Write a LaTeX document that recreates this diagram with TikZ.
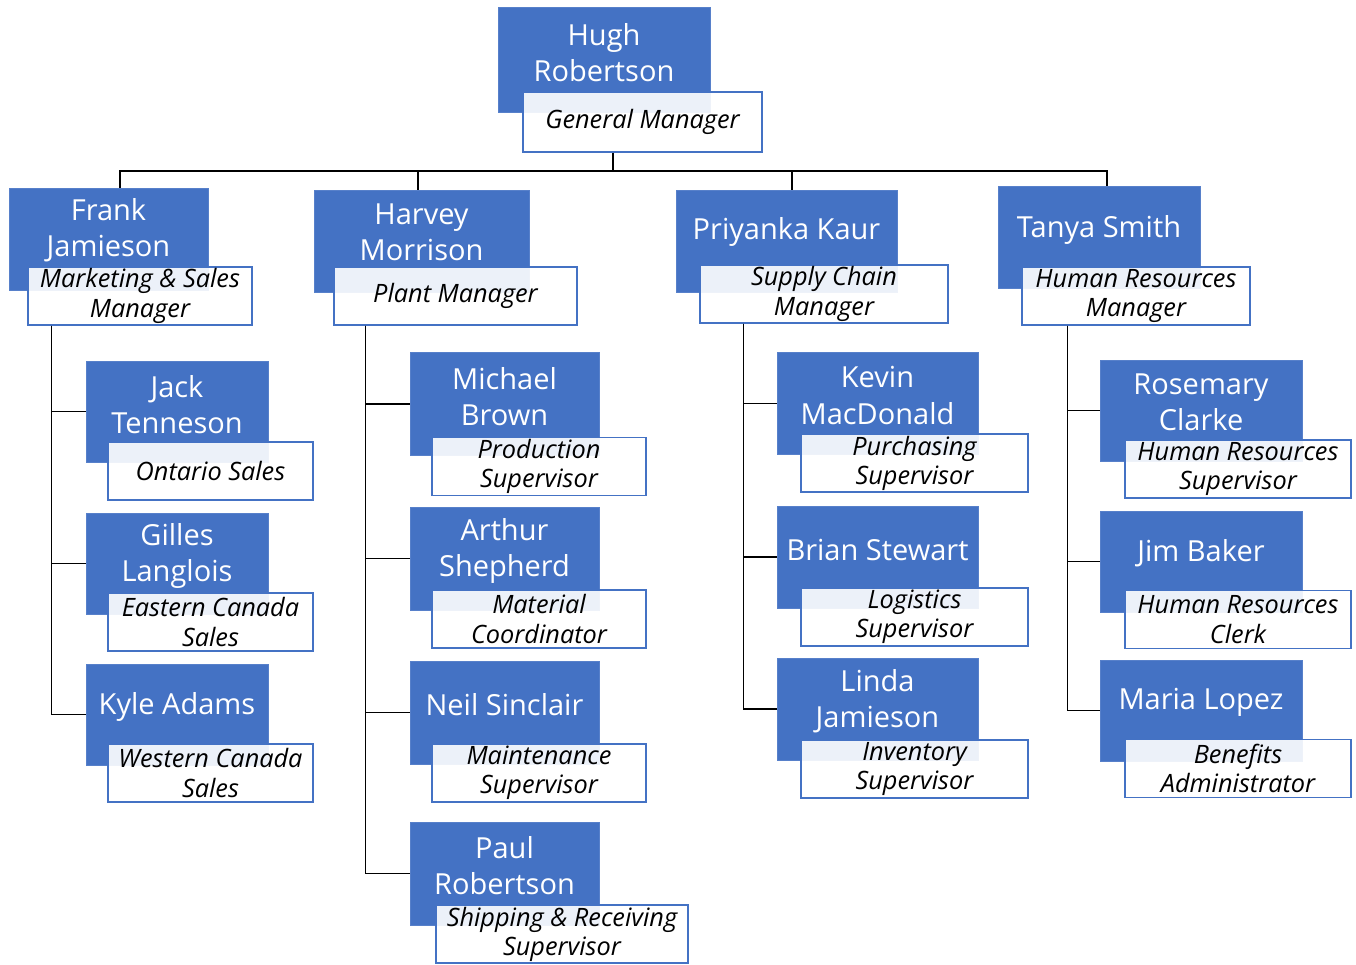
\documentclass[tikz,border=0pt]{standalone}
\usepackage{fontspec}
\setmainfont{Open Sans}
\usepackage{xcolor}
\usetikzlibrary{positioning,calc}
\definecolor{officeblue}{HTML}{4472C4}

\tikzset{
    bluebox/.style={rectangle, fill=officeblue, draw=officeblue!90!white, inner sep=0pt},
    person/.style={text=white, align=center, inner sep=0pt, yshift=-0.05cm, font=\fontsize{16.5}{20.5}\selectfont},
    titlebox/.style={rectangle, draw=officeblue, line width=0.7pt, fill=white, fill opacity=0.9, text opacity=1,
        align=center, inner sep=0pt, minimum height=1.16cm, font=\fontsize{14.4}{16.6}\selectfont\itshape},
    link/.style={draw=black, line width=0.8pt}
}

\begin{document}
\begin{tikzpicture}[x=0.02cm, y=-0.02cm]
    \useasboundingbox (0,0) rectangle (1356,964);

    % general manager
    \node (box-hugh) [bluebox, minimum width=4.24cm, minimum height=2.1cm] at (604,59.5) {};
    \node (hugh) [person] at (604,50) {Hugh\\Robertson};
    \node (title-hugh) [titlebox, minimum width=4.78cm, minimum height=1.2cm] at (642.5,122) {General Manager};

    % managers
    \node (box-frank) [bluebox, minimum width=3.98cm, minimum height=2.04cm] at (108.5,239) {};
    \node (frank) [person] at (108.5,228) {Frank\\Jamieson};
    \node (title-frank) [titlebox, minimum width=4.48cm] at (140,296) {Marketing \& Sales\\Manager};

    \node (box-harvey) [bluebox, minimum width=4.3cm, minimum height=2.04cm] at (421.5,241) {};
    \node (harvey) [person] at (421.5,230) {Harvey\\Morrison};
    \node (title-harvey) [titlebox, minimum width=4.86cm] at (455.5,296) {Plant Manager};

    \node (box-priyanka) [bluebox, minimum width=4.42cm, minimum height=2.04cm] at (786.5,241) {};
    \node (priyanka) [person] at (786.5,229) {Priyanka Kaur};
    \node (title-priyanka) [titlebox, minimum width=4.96cm] at (824,294) {Supply Chain\\Manager};

    \node (box-tanya) [bluebox, minimum width=4.04cm, minimum height=2.04cm] at (1099,237) {};
    \node (tanya) [person] at (1099,227) {Tanya Smith};
    \node (title-tanya) [titlebox, minimum width=4.56cm] at (1136,296) {Human Resources\\Manager};

    % marketing & sales
    \node (box-jack) [bluebox, minimum width=3.64cm, minimum height=2.02cm] at (177,411.5) {};
    \node (jack) [person] at (177,402) {Jack\\Tenneson};
    \node (title-jack) [titlebox, minimum width=4.1cm] at (210.5,471) {Ontario Sales};

    \node (box-gilles) [bluebox, minimum width=3.64cm, minimum height=2.02cm] at (177,563.5) {};
    \node (gilles) [person] at (177,553) {Gilles\\Langlois};
    \node (title-gilles) [titlebox, minimum width=4.1cm] at (210.5,622) {Eastern Canada\\Sales};

    \node (box-kyle) [bluebox, minimum width=3.64cm, minimum height=2.02cm] at (177,714.5) {};
    \node (kyle) [person] at (177,704) {Kyle Adams};
    \node (title-kyle) [titlebox, minimum width=4.1cm] at (210.5,773) {Western Canada\\Sales};

    % plant
    \node (box-michael) [bluebox, minimum width=3.78cm, minimum height=2.06cm] at (504.5,404) {};
    \node (michael) [person] at (504.5,394) {Michael\\Brown};
    \node (title-michael) [titlebox, minimum width=4.28cm] at (539,466.5) {Production\\Supervisor};

    \node (box-arthur) [bluebox, minimum width=3.78cm, minimum height=2.06cm] at (504.5,558.5) {};
    \node (arthur) [person] at (504.5,548) {Arthur\\Shepherd};
    \node (title-arthur) [titlebox, minimum width=4.28cm] at (539,619) {Material\\Coordinator};

    \node (box-neil) [bluebox, minimum width=3.78cm, minimum height=2.06cm] at (504.5,712.5) {};
    \node (neil) [person] at (504.5,702) {Neil Sinclair};
    \node (title-neil) [titlebox, minimum width=4.28cm] at (539,773) {Maintenance\\Supervisor};

    \node (box-paul) [bluebox, minimum width=3.78cm, minimum height=2.06cm] at (504.5,873.5) {};
    \node (paul) [person] at (504.5,863) {Paul\\Robertson};
    \node (title-paul) [titlebox, minimum width=5.04cm] at (562,934) {Shipping \& Receiving\\Supervisor};

    % supply chain
    \node (box-kevin) [bluebox, minimum width=4.02cm, minimum height=2.04cm] at (877.5,403.5) {};
    \node (kevin) [person] at (877.5,393) {Kevin\\MacDonald};
    \node (title-kevin) [titlebox, minimum width=4.54cm] at (914.5,463) {Purchasing\\Supervisor};

    \node (box-brian) [bluebox, minimum width=4.02cm, minimum height=2.04cm] at (877.5,557) {};
    \node (brian) [person] at (877.5,547) {Brian Stewart};
    \node (title-brian) [titlebox, minimum width=4.54cm] at (914.5,617) {Logistics\\Supervisor};

    \node (box-linda) [bluebox, minimum width=4.02cm, minimum height=2.04cm] at (877.5,709) {};
    \node (linda) [person] at (877.5,699) {Linda\\Jamieson};
    \node (title-linda) [titlebox, minimum width=4.54cm] at (914.5,769) {Inventory\\Supervisor};

    % human resources
    \node (box-rosemary) [bluebox, minimum width=4.04cm, minimum height=2.02cm] at (1201,410.5) {};
    \node (rosemary) [person] at (1201,400) {Rosemary\\Clarke};
    \node (title-rosemary) [titlebox, minimum width=4.52cm] at (1238,469) {Human Resources\\Supervisor};

    \node (box-jim) [bluebox, minimum width=4.04cm, minimum height=2.02cm] at (1201,561.5) {};
    \node (jim) [person] at (1201,551) {Jim Baker};
    \node (title-jim) [titlebox, minimum width=4.52cm] at (1238,619.5) {Human Resources\\Clerk};

    \node (box-maria) [bluebox, minimum width=4.04cm, minimum height=2.02cm] at (1201,710.5) {};
    \node (maria) [person] at (1201,700) {Maria Lopez};
    \node (title-maria) [titlebox, minimum width=4.52cm] at (1238,768.5) {Benefits\\Administrator};

    % connectors
    \coordinate (hub) at (613,171);
    \draw [link] (hub |- title-hugh.south) -- (hub);
    \draw [link] (hub) -| ([xshift=0.23cm]box-frank.north);
    \draw [link] (hub) -| ([xshift=-0.07cm]box-harvey.north);
    \draw [link] (hub) -| ([xshift=0.11cm]box-priyanka.north);
    \draw [link] (hub) -| ([xshift=0.16cm]box-tanya.north);

    \coordinate (down-frank) at ([xshift=0.48cm]title-frank.south west);
    \coordinate (down-harvey) at ([xshift=0.64cm]title-harvey.south west);
    \coordinate (down-priyanka) at ([xshift=0.88cm]title-priyanka.south west);
    \coordinate (down-tanya) at ([xshift=0.92cm]title-tanya.south west);
    \foreach \c in {jack,gilles,kyle}
        \draw [link] (down-frank) |- (box-\c.west);
    \foreach \c in {michael,arthur,neil,paul}
        \draw [link] (down-harvey) |- (box-\c.west);
    \foreach \c in {kevin,brian,linda}
        \draw [link] (down-priyanka) |- (box-\c.west);
    \foreach \c in {rosemary,jim,maria}
        \draw [link] (down-tanya) |- (box-\c.west);
\end{tikzpicture}
\end{document}
